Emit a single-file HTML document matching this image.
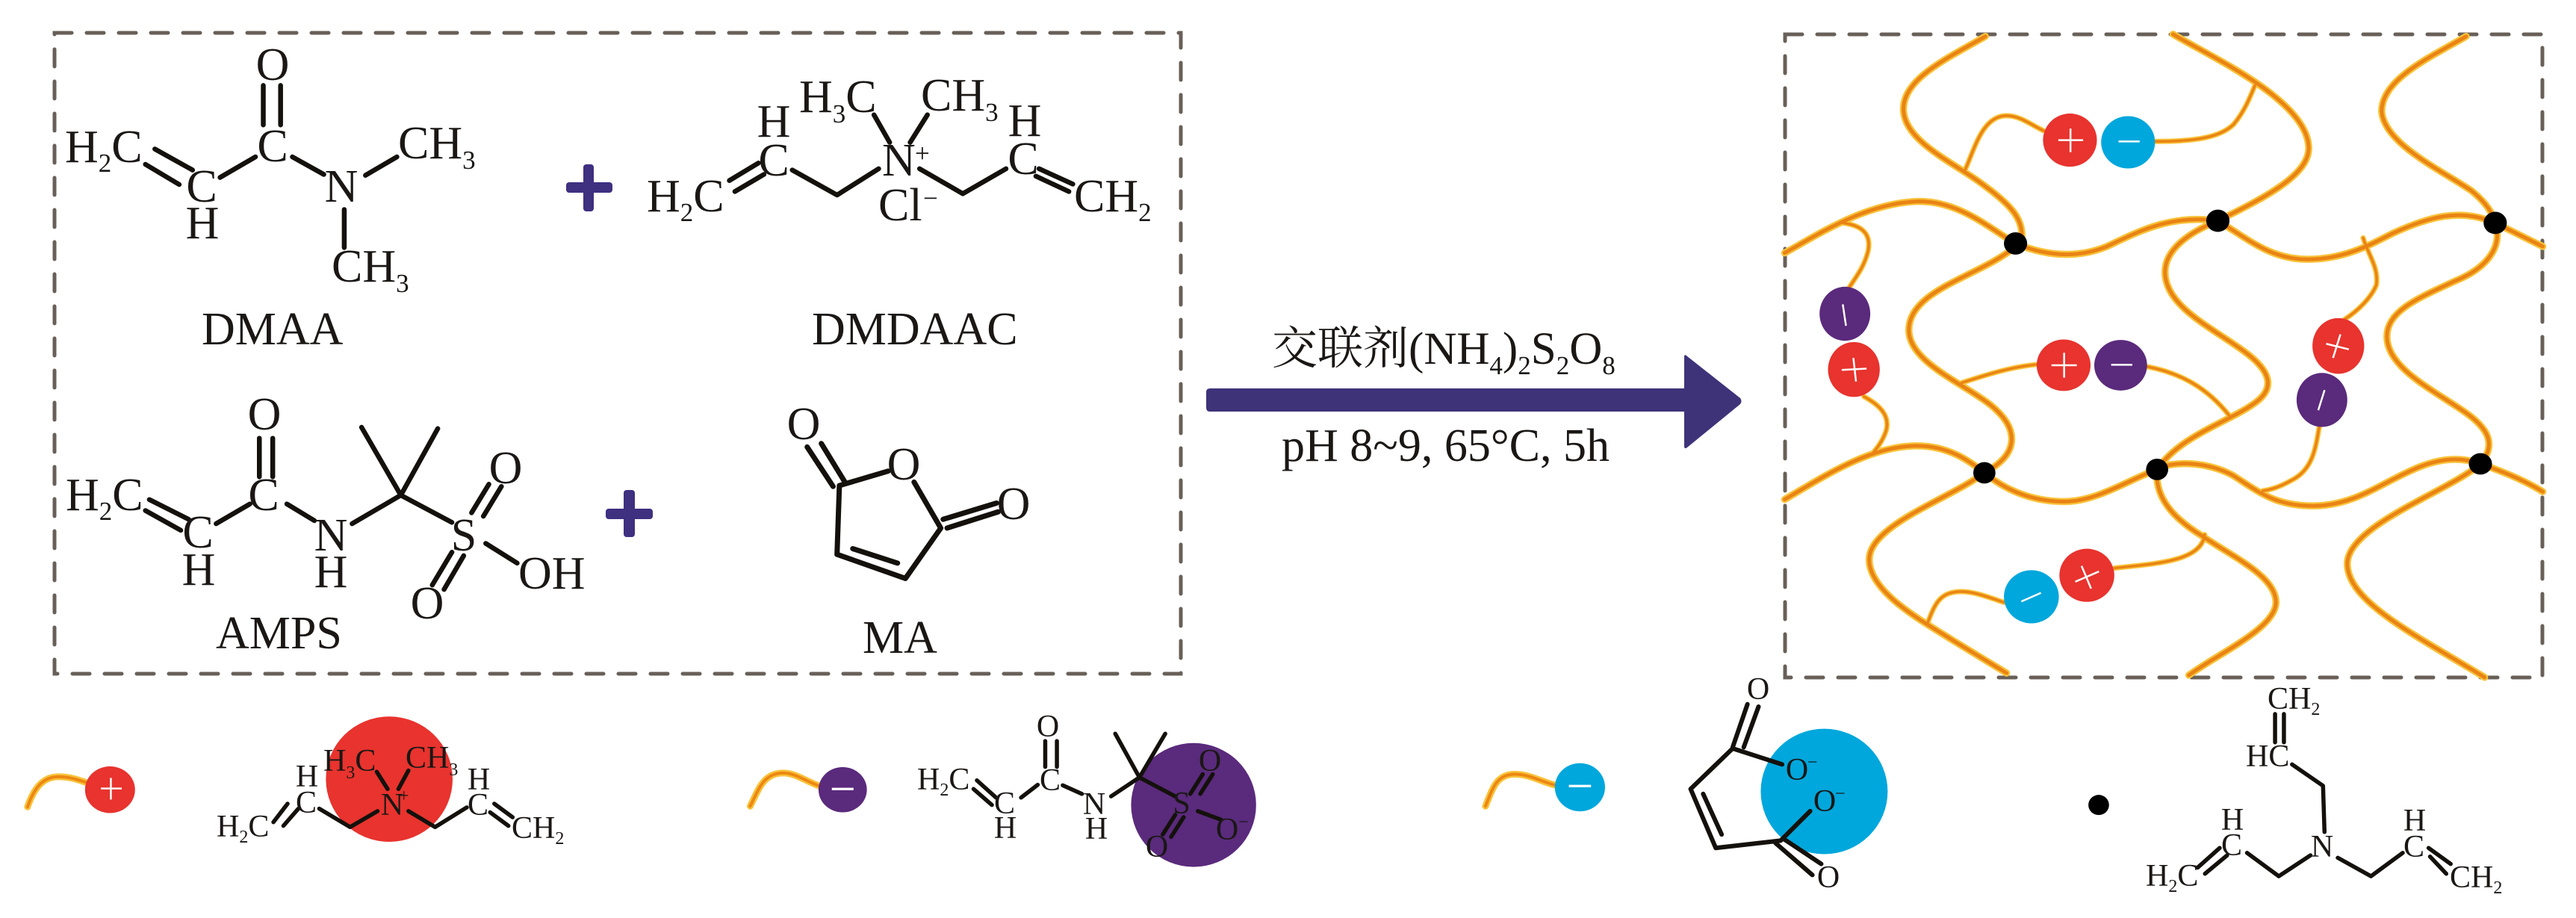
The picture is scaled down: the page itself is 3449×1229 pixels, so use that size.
<!DOCTYPE html>
<html lang="zh"><head><meta charset="utf-8"><title>Polymer network synthesis</title>
<style>
html,body{margin:0;padding:0;background:#fff;width:3449px;height:1229px;overflow:hidden}
svg{display:block}
text{font-family:"Liberation Serif","Noto Serif CJK SC",serif;fill:#1a1715}
.t{font-size:62px}
.l{font-size:62px}
.m{text-anchor:middle}
.b{font-size:42px}
.s{font-size:35px}
.bs{font-size:24px}
.bond path{stroke:#14110c;fill:none;vector-effect:non-scaling-stroke;stroke-linecap:round;stroke-linejoin:round}
.nl path{fill:none;vector-effect:non-scaling-stroke;stroke-linecap:round}
.w line{stroke:#fff;stroke-width:2.5;vector-effect:non-scaling-stroke}
</style></head><body>
<svg width="3449" height="1229" viewBox="0 0 3449 1229" xmlns="http://www.w3.org/2000/svg">
<rect width="3449" height="1229" fill="#fff"/>
<!-- dashed boxes -->
<rect x="73" y="44" width="1508" height="858" fill="none" stroke="#686058" stroke-width="5" stroke-dasharray="23 20" stroke-linecap="round"/>
<rect x="2390" y="46" width="1014" height="861" fill="none" stroke="#686058" stroke-width="5" stroke-dasharray="23 20" stroke-linecap="round"/>

<!-- top-left molecules (zoom coords) -->
<g transform="scale(1.0523,0.5867)">
<g class="bond">
<path style="stroke-width:6.5px" d="M335 195V285M357 195V285M197 340L245 388M185 375L228 421M280 405L325 358M372 358L412 398M465 400L505 358M438 478V565"/>
<path style="stroke-width:6.5px" d="M928 412L965 372M935 437L972 398M1008 388L1065 445L1118 385M1112 262L1132 325M1180 262L1158 325M1170 385L1225 442L1280 385M1322 385L1365 420M1318 402L1360 437"/>
<path style="stroke-width:6.5px" d="M330 1000V1088M347 1000V1088M190 1140L240 1185M185 1165L230 1210M275 1195L318 1150M365 1150L400 1188M448 1195L510 1130L460 975M510 1130L557 978M510 1130L575 1192M600 1170L622 1105M615 1178L638 1110M550 1335L575 1260M565 1345L590 1268M618 1240L658 1285"/>
<path style="stroke-width:7px" d="M1130 1075L1068 1108L1065 1265L1152 1320L1197 1205L1163 1100M1085 1252L1142 1285M1060 1110L1027 1020M1075 1100L1045 1012M1200 1185L1268 1148M1205 1205L1270 1168"/>
</g>
</g>
<g fill="#3f3080">
<rect x="758" y="244" width="62" height="14" rx="4"/><rect x="781" y="220" width="14" height="63" rx="4"/>
<rect x="811" y="681" width="63" height="14" rx="4"/><rect x="835" y="656" width="15" height="63" rx="4"/>
</g>

<!-- DMAA -->
<text class="t m" x="365" y="107">O</text>
<text class="t m" x="365" y="216">C</text>
<text class="t" x="87" y="217">H<tspan class="s" dy="13">2</tspan><tspan dy="-13">C</tspan></text>
<text class="t m" x="270" y="270">C</text>
<text class="t m" x="271" y="319">H</text>
<text class="t m" x="457" y="270">N</text>
<text class="t" x="533" y="212">CH<tspan class="s" dy="14">3</tspan></text>
<text class="t" x="444" y="377">CH<tspan class="s" dy="14">3</tspan></text>
<!-- DMDAAC -->
<text class="t" x="866" y="283">H<tspan class="s" dy="13">2</tspan><tspan dy="-13">C</tspan></text>
<text class="t m" x="1036" y="235">C</text>
<text class="t m" x="1036" y="183">H</text>
<text class="t" x="1070" y="150">H<tspan class="s" dy="14">3</tspan><tspan dy="-14">C</tspan></text>
<text class="t" x="1233" y="148">CH<tspan class="s" dy="14">3</tspan></text>
<text class="t" x="1181" y="235">N</text><text class="s" x="1225" y="217">+</text>
<text class="t" x="1176" y="295">Cl</text><text class="s" x="1236" y="277">−</text>
<text class="t m" x="1372" y="182">H</text>
<text class="t m" x="1370" y="233">C</text>
<text class="t" x="1438" y="283">CH<tspan class="s" dy="13">2</tspan></text>
<text class="l" x="270" y="461">DMAA</text>
<text class="l" x="1087" y="461">DMDAAC</text>
<!-- AMPS -->
<text class="t m" x="354" y="575">O</text>
<text class="t m" x="353" y="683">C</text>
<text class="t" x="88" y="683">H<tspan class="s" dy="13">2</tspan><tspan dy="-13">C</tspan></text>
<text class="t m" x="265" y="733">C</text>
<text class="t m" x="266" y="783">H</text>
<text class="t m" x="443" y="737">N</text>
<text class="t m" x="443" y="786">H</text>
<text class="t m" x="621" y="737">S</text>
<text class="t m" x="677" y="647">O</text>
<text class="t m" x="572" y="828">O</text>
<text class="t" x="694" y="788">OH</text>
<text class="l" x="289" y="868">AMPS</text>
<!-- MA -->
<text class="t m" x="1076" y="588">O</text>
<text class="t m" x="1210" y="642">O</text>
<text class="t m" x="1357" y="695">O</text>
<text class="l" x="1155" y="874">MA</text>

<!-- arrow -->
<path d="M1620 520H2255V478Q2255 473 2259 477L2330 533Q2333 537 2330 541L2259 599Q2255 602 2255 597V551H1620Q1615 551 1615 546V525Q1615 520 1620 520Z" fill="#3e3279"/>
<text class="l" x="1703" y="487" style="font-size:61px">交联剂(NH<tspan class="s" dy="14">4</tspan><tspan dy="-14">)</tspan><tspan class="s" dy="14">2</tspan><tspan dy="-14">S</tspan><tspan class="s" dy="14">2</tspan><tspan dy="-14">O</tspan><tspan class="s" dy="14">8</tspan></text>
<text class="l" x="1716" y="617">pH 8~9, 65°C, 5h</text>

<!-- network -->
<g transform="translate(2340,20) scale(.7073,.574)">
<g class="nl">
<path stroke="#f8c33a" style="stroke-width:9.5px" d="M450 50C380 100 290 150 295 225C300 300 400 350 450 400C500 445 525 480 518 530M805 45C880 100 1060 200 1062 310C1062 370 990 420 893 478M1360 50C1290 100 1200 150 1200 225C1205 300 1310 360 1370 410C1395 435 1410 460 1415 485M70 555C130 515 220 440 320 435C400 432 460 500 507 533C560 560 620 570 680 540C740 505 800 465 890 480C950 525 990 570 1060 570C1130 570 1180 535 1220 510C1290 470 1350 450 1415 485L1505 540M507 540C440 610 305 640 305 735C305 810 410 860 460 910C510 960 520 1020 448 1068M890 480C830 510 790 550 790 600C790 680 880 730 940 785C990 830 1000 870 960 905C910 950 820 980 775 1060M1415 485C1430 540 1400 590 1340 620C1270 660 1210 690 1210 750C1210 820 1290 870 1350 920C1400 960 1420 1000 1387 1047M70 1130C140 1080 230 1005 320 1005C380 1005 420 1040 448 1068C490 1110 540 1135 600 1135C660 1135 720 1085 775 1060C800 1040 870 1040 920 1075C970 1115 1000 1145 1070 1145C1150 1145 1200 1090 1270 1055C1310 1035 1350 1030 1387 1047C1430 1065 1470 1085 1505 1112M448 1068C380 1130 230 1190 230 1270C230 1350 340 1420 390 1460L490 1535M775 1060C770 1120 800 1170 860 1215C920 1265 1000 1310 1000 1370C1000 1430 890 1490 835 1540M1387 1047C1330 1110 1135 1190 1135 1280C1135 1370 1270 1450 1395 1545"/>
<path stroke="#f8c33a" style="stroke-width:7px" d="M412 360C430 310 445 235 490 235C515 235 535 255 560 270M772 295C850 295 895 285 920 255C940 225 950 195 960 165M180 485C210 490 235 505 228 550C220 590 205 610 190 640M220 890C250 910 270 935 262 970C255 995 245 1010 235 1025M1165 520C1175 560 1195 590 1190 630C1180 660 1155 690 1130 710M1082 960C1075 1010 1070 1060 1030 1085C1015 1095 1000 1105 975 1110M405 858C450 840 500 820 550 815M755 820C820 835 870 870 912 935M695 1290C770 1280 860 1275 865 1212M340 1420C355 1370 365 1345 405 1345C430 1345 460 1360 485 1370"/>
<path stroke="#e98314" style="stroke-width:5px" d="M450 50C380 100 290 150 295 225C300 300 400 350 450 400C500 445 525 480 518 530M805 45C880 100 1060 200 1062 310C1062 370 990 420 893 478M1360 50C1290 100 1200 150 1200 225C1205 300 1310 360 1370 410C1395 435 1410 460 1415 485M70 555C130 515 220 440 320 435C400 432 460 500 507 533C560 560 620 570 680 540C740 505 800 465 890 480C950 525 990 570 1060 570C1130 570 1180 535 1220 510C1290 470 1350 450 1415 485L1505 540M507 540C440 610 305 640 305 735C305 810 410 860 460 910C510 960 520 1020 448 1068M890 480C830 510 790 550 790 600C790 680 880 730 940 785C990 830 1000 870 960 905C910 950 820 980 775 1060M1415 485C1430 540 1400 590 1340 620C1270 660 1210 690 1210 750C1210 820 1290 870 1350 920C1400 960 1420 1000 1387 1047M70 1130C140 1080 230 1005 320 1005C380 1005 420 1040 448 1068C490 1110 540 1135 600 1135C660 1135 720 1085 775 1060C800 1040 870 1040 920 1075C970 1115 1000 1145 1070 1145C1150 1145 1200 1090 1270 1055C1310 1035 1350 1030 1387 1047C1430 1065 1470 1085 1505 1112M448 1068C380 1130 230 1190 230 1270C230 1350 340 1420 390 1460L490 1535M775 1060C770 1120 800 1170 860 1215C920 1265 1000 1310 1000 1370C1000 1430 890 1490 835 1540M1387 1047C1330 1110 1135 1190 1135 1280C1135 1370 1270 1450 1395 1545"/>
<path stroke="#e98314" style="stroke-width:3.5px" d="M412 360C430 310 445 235 490 235C515 235 535 255 560 270M772 295C850 295 895 285 920 255C940 225 950 195 960 165M180 485C210 490 235 505 228 550C220 590 205 610 190 640M220 890C250 910 270 935 262 970C255 995 245 1010 235 1025M1165 520C1175 560 1195 590 1190 630C1180 660 1155 690 1130 710M1082 960C1075 1010 1070 1060 1030 1085C1015 1095 1000 1105 975 1110M405 858C450 840 500 820 550 815M755 820C820 835 870 870 912 935M695 1290C770 1280 860 1275 865 1212M340 1420C355 1370 365 1345 405 1345C430 1345 460 1360 485 1370"/>
</g>
<g fill="#e8332e">
<ellipse cx="610" cy="292" rx="51" ry="62"/><ellipse cx="201" cy="827" rx="49" ry="64"/><ellipse cx="598" cy="817" rx="51" ry="60"/><ellipse cx="1118" cy="772" rx="49" ry="65"/><ellipse cx="642" cy="1307" rx="52" ry="62"/>
</g>
<g fill="#00a7dc"><ellipse cx="720" cy="297" rx="51" ry="61"/><ellipse cx="537" cy="1357" rx="52" ry="62"/></g>
<g fill="#5a2a7c"><ellipse cx="184" cy="697" rx="48" ry="63"/><ellipse cx="706" cy="817" rx="50" ry="59"/><ellipse cx="1087" cy="898" rx="48" ry="63"/></g>
<g fill="#000"><ellipse cx="507" cy="533" rx="22" ry="26"/><ellipse cx="890" cy="480" rx="22" ry="26"/><ellipse cx="1415" cy="485" rx="22" ry="26"/><ellipse cx="448" cy="1068" rx="21" ry="25"/><ellipse cx="775" cy="1060" rx="21" ry="25"/><ellipse cx="1387" cy="1047" rx="22" ry="25"/></g>
<g class="w">
<line x1="588" y1="292" x2="635" y2="292"/><line x1="611" y1="265" x2="611" y2="320"/>
<line x1="702" y1="295" x2="742" y2="295"/>
<line x1="180" y1="675" x2="186" y2="725"/>
<line x1="178" y1="828" x2="225" y2="825"/><line x1="200" y1="800" x2="205" y2="855"/>
<line x1="575" y1="817" x2="623" y2="817"/><line x1="599" y1="788" x2="599" y2="846"/>
<line x1="688" y1="816" x2="728" y2="816"/>
<line x1="1095" y1="767" x2="1138" y2="780"/><line x1="1122" y1="745" x2="1108" y2="800"/>
<line x1="1092" y1="875" x2="1080" y2="922"/>
<line x1="518" y1="1368" x2="555" y2="1348"/>
<line x1="620" y1="1322" x2="665" y2="1298"/><line x1="632" y1="1285" x2="650" y2="1338"/>
</g>
</g>

<!-- legend left -->
<g transform="translate(0,900) scale(1.116,.329)">
<g class="nl">
<path stroke="#f8c33a" style="stroke-width:9px" d="M33 548C40 480 50 425 70 425C85 425 95 440 105 450"/>
<path stroke="#ec8712" style="stroke-width:4px" d="M33 548C40 480 50 425 70 425C85 425 95 440 105 450"/>
<path stroke="#f8c33a" style="stroke-width:9px" d="M900 545C910 480 915 410 940 410C955 410 970 450 985 465"/>
<path stroke="#ec8712" style="stroke-width:4px" d="M900 545C910 480 915 410 940 410C955 410 970 450 985 465"/>
</g>
<ellipse cx="132" cy="478" rx="30" ry="95" fill="#e8332e"/>
<ellipse cx="467" cy="435" rx="76" ry="255" fill="#e8332e"/>
<ellipse cx="1011" cy="478" rx="29" ry="92" fill="#5a2a7c"/>
<ellipse cx="1432" cy="540" rx="75" ry="252" fill="#5a2a7c"/>
<g class="w"><line x1="121" y1="473" x2="146" y2="473"/><line x1="133" y1="430" x2="133" y2="518"/></g>
<rect x="998" y="470" width="26" height="10" fill="#fff"/>
<g class="bond">
<path style="stroke-width:5.5px" d="M452 405L465 475M490 400L478 475M383 555L420 630L453 565M490 565L522 630L560 550M328 610L345 535M340 625L358 555M593 535L615 590M588 570L610 625"/>
<path style="stroke-width:5.5px" d="M1254 280V385M1268 280V385M1172 440L1195 510M1168 475L1190 540M1225 510L1245 458M1275 460L1298 495M1333 505L1367 428L1338 250M1367 428L1398 250M1367 428L1410 505M1428 495L1443 415M1440 495L1455 415M1395 660L1410 580M1405 670L1420 590M1437 565L1465 600"/>
</g>
</g>
<text class="b" x="433" y="1032">H<tspan class="bs" dy="10">3</tspan><tspan dy="-10">C</tspan></text>
<text class="b" x="543" y="1028">CH<tspan class="bs" dy="10">3</tspan></text>
<text class="b m" x="411" y="1053">H</text>
<text class="b m" x="410" y="1088">C</text>
<text class="b" x="290" y="1120">H<tspan class="bs" dy="8">2</tspan><tspan dy="-8">C</tspan></text>
<text class="b m" x="525" y="1091">N</text><text class="bs" x="534" y="1073">+</text>
<text class="b m" x="641" y="1057">H</text>
<text class="b m" x="640" y="1091">C</text>
<text class="b" x="685" y="1122">CH<tspan class="bs" dy="8">2</tspan></text>

<text class="b" x="1228" y="1057">H<tspan class="bs" dy="8">2</tspan><tspan dy="-8">C</tspan></text>
<text class="b m" x="1403" y="986">O</text>
<text class="b m" x="1406" y="1058">C</text>
<text class="b m" x="1345" y="1089">C</text>
<text class="b m" x="1346" y="1122">H</text>
<text class="b m" x="1465" y="1090">N</text>
<text class="b m" x="1468" y="1123">H</text>
<text class="b m" x="1582" y="1089">S</text>
<text class="b m" x="1620" y="1032">O</text>
<text class="b m" x="1643" y="1124">O</text><text class="bs" x="1658" y="1108">−</text>
<text class="b m" x="1549" y="1147">O</text>

<!-- legend right -->
<g transform="translate(1900,900) scale(.988,.329)">
<g class="nl">
<path stroke="#f8c33a" style="stroke-width:9px" d="M90 545C100 470 105 415 130 415C150 415 165 445 185 460"/>
<path stroke="#ec8712" style="stroke-width:4px" d="M90 545C100 470 105 415 130 415C150 415 165 445 185 460"/>
</g>
<ellipse cx="218" cy="468" rx="34" ry="98" fill="#00a7dc"/>
<rect x="203" y="458" width="30" height="10" fill="#fff"/>
<ellipse cx="549" cy="485" rx="86" ry="255" fill="#00a7dc"/>
<ellipse cx="921" cy="540" rx="14" ry="41" fill="#000"/>
<g class="bond">
<path style="stroke-width:6px" d="M492 375L425 310L368 475L402 715L490 685L530 565M385 495L410 660M425 305L445 130M440 305L460 140M483 695L533 825M495 680L545 780"/>
<path style="stroke-width:5.5px" d="M1160 170V285M1172 170V285M1183 375L1225 462L1227 650M1055 795L1085 715M1065 820L1095 745M1122 735L1165 830L1208 745M1245 755L1290 830L1333 735M1368 715L1398 780M1370 750L1392 820"/>
</g>
</g>
<text class="b m" x="2354" y="936">O</text>
<text class="b m" x="2406" y="1044">O</text><text class="bs" x="2420" y="1028">−</text>
<text class="b m" x="2443" y="1086">O</text><text class="bs" x="2457" y="1070">−</text>
<text class="b m" x="2448" y="1188">O</text>
<text class="b" x="3036" y="949">CH<tspan class="bs" dy="8">2</tspan></text>
<text class="b" x="3007" y="1026">HC</text>
<text class="b m" x="3109" y="1147">N</text>
<text class="b m" x="2989" y="1111">H</text>
<text class="b m" x="2988" y="1145">C</text>
<text class="b" x="2873" y="1186">H<tspan class="bs" dy="8">2</tspan><tspan dy="-8">C</tspan></text>
<text class="b m" x="3233" y="1112">H</text>
<text class="b m" x="3232" y="1147">C</text>
<text class="b" x="3280" y="1188">CH<tspan class="bs" dy="8">2</tspan></text>
</svg>
</body></html>
